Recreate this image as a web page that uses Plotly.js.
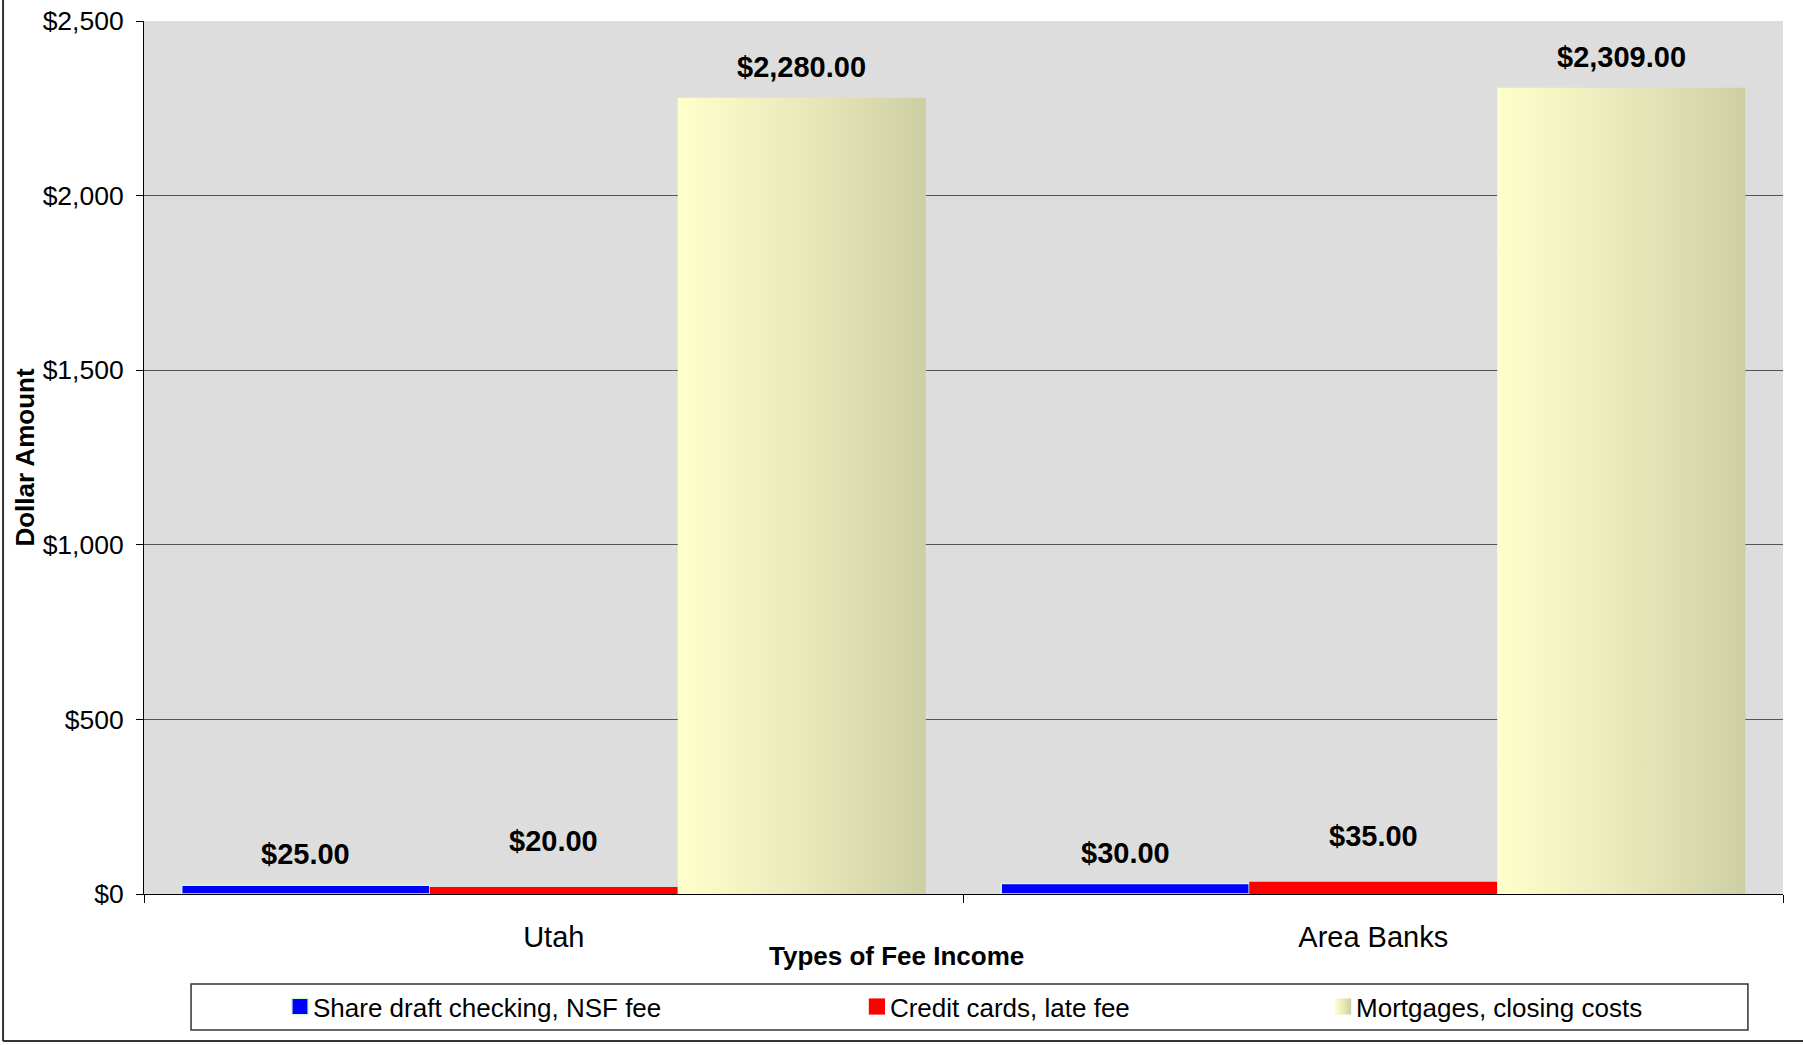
<!DOCTYPE html>
<html>
<head>
<meta charset="utf-8">
<script src="https://cdn.plot.ly/plotly-3.0.1.min.js"></script>
<style>
  html, body { margin: 0; padding: 0; background: #fff; }
  #chart { width: 1803px; height: 1045px; }
</style>
</head>
<body>
<div id="chart"></div>
<script>
// ---- data ----
const categories = ['Utah', 'Area Banks'];
const seriesNames = ['Share draft checking, NSF fee', 'Credit cards, late fee', 'Mortgages, closing costs'];
const shareDraftNSF = [25, 30];
const creditCardsLate = [20, 35];
const mortgagesClosing = [2280, 2309];
const xAxisTitle = 'Types of Fee Income';
const yAxisTitle = 'Dollar Amount';

// ---- style ----
const FONT = 'Liberation Sans, Arial, sans-serif';
const BARGAP = 0.092;
const seriesValues = [shareDraftNSF, creditCardsLate, mortgagesClosing];
const seriesColors = ['#0000FF', '#FF0000', '#F0F0C0'];
const seriesLines = [{color: '#CCFFCC', width: 1.5}, {color: '#FF0000', width: 0}, {color: '#DDDDB0', width: 0}];
const legendIds = ['legend', 'legend2', 'legend3'];
const labelShift = [31, 46, 31];

const traces = seriesValues.map((vals, s) => ({
  type: 'bar',
  name: seriesNames[s],
  x: categories,
  y: vals,
  marker: {color: seriesColors[s], line: seriesLines[s]},
  legend: legendIds[s],
  hoverinfo: 'skip'
}));

const barW = (1 - BARGAP) / seriesValues.length;
const annotations = [];
seriesValues.forEach((vals, s) => {
  vals.forEach((v, i) => {
    annotations.push({
      x: i + (s - (seriesValues.length - 1) / 2) * barW,
      y: v,
      xref: 'x', yref: 'y',
      text: '$' + v.toLocaleString('en-US', {minimumFractionDigits: 2, maximumFractionDigits: 2}),
      showarrow: false,
      xanchor: 'center', yanchor: 'middle',
      yshift: labelShift[s],
      font: {family: FONT, size: 29, color: '#000', weight: 'bold'}
    });
  });
});
annotations.push({
  text: xAxisTitle,
  xref: 'paper', yref: 'paper',
  x: 0.4594, y: -0.071,
  xanchor: 'center', yanchor: 'middle',
  showarrow: false,
  font: {family: FONT, size: 26, color: '#000', weight: 'bold'}
});

const legendBase = {
  orientation: 'h', xref: 'paper', yref: 'paper',
  xanchor: 'left', yanchor: 'middle', y: -0.129,
  bgcolor: 'rgba(0,0,0,0)', borderwidth: 0,
  font: {family: FONT, size: 26, color: '#000'}
};

const layout = {
  width: 1803, height: 1045,
  margin: {l: 144, r: 20, t: 21, b: 151, pad: 0},
  paper_bgcolor: '#FFFFFF',
  plot_bgcolor: '#DDDDDD',
  font: {family: FONT, color: '#000'},
  barmode: 'group',
  bargap: BARGAP,
  bargroupgap: 0,
  showlegend: true,
  legend: Object.assign({}, legendBase, {x: 0.0787}),
  legend2: Object.assign({}, legendBase, {x: 0.4307}),
  legend3: Object.assign({}, legendBase, {x: 0.7151}),
  xaxis: {
    type: 'category',
    automargin: false,
    showline: true, linecolor: '#000', linewidth: 1,
    ticks: 'outside', tickson: 'boundaries', ticklen: 8, tickcolor: '#000', tickwidth: 1,
    tickfont: {family: FONT, size: 29, color: '#000'},
    ticklabelstandoff: 17,
    showgrid: false, zeroline: false
  },
  yaxis: {
    range: [0, 2500], dtick: 500, tick0: 0,
    automargin: false,
    tickprefix: '$', tickformat: ',d',
    showline: true, linecolor: '#000', linewidth: 1,
    ticks: 'outside', ticklen: 7, tickcolor: '#000', tickwidth: 1,
    tickfont: {family: FONT, size: 26.5, color: '#000'},
    ticklabelstandoff: 7,
    showgrid: true, gridcolor: '#555555', gridwidth: 1,
    zeroline: false,
    title: {text: yAxisTitle, standoff: 0, font: {family: FONT, size: 26, color: '#000', weight: 'bold'}}
  },
  annotations: annotations,
  shapes: [
    {type: 'rect', xref: 'paper', yref: 'paper', x0: 0.0287, x1: 0.9786, y0: -0.1558, y1: -0.1031,
     line: {color: '#333333', width: 1.5}, fillcolor: 'rgba(0,0,0,0)', layer: 'below'},
    {type: 'line', xref: 'paper', yref: 'paper', x0: -0.086, x1: -0.086, y0: -0.1684, y1: 1.05,
     line: {color: '#333333', width: 2}},
    {type: 'line', xref: 'paper', yref: 'paper', x0: -0.086, x1: 1.05, y0: -0.1684, y1: -0.1684,
     line: {color: '#333333', width: 2}}
  ]
};

Plotly.newPlot('chart', traces, layout, {displayModeBar: false, staticPlot: true}).then(gd => {
  const svgNS = 'http://www.w3.org/2000/svg';
  const defs = gd.querySelector('.main-svg defs');
  const grad = document.createElementNS(svgNS, 'linearGradient');
  grad.setAttribute('id', 'mortGrad');
  grad.setAttribute('x1', '0'); grad.setAttribute('y1', '0');
  grad.setAttribute('x2', '1'); grad.setAttribute('y2', '0');
  [['0', '#FFFFCC'], ['0.5', '#EAE9BA'], ['1', '#CDCFA3']].forEach(([o, c]) => {
    const st = document.createElementNS(svgNS, 'stop');
    st.setAttribute('offset', o); st.setAttribute('stop-color', c);
    grad.appendChild(st);
  });
  defs.appendChild(grad);
  gd.querySelectorAll('.barlayer .trace').forEach(t => {
    const d = t.__data__;
    if (d && d[0] && d[0].trace && d[0].trace.index === 2) {
      t.querySelectorAll('path').forEach(p => { p.style.fill = 'url(#mortGrad)'; });
    }
  });
  gd.querySelectorAll('.legendpoints path').forEach(p => {
    const item = p.closest('.traces');
    const d = item ? item.__data__ : null;
    const idx = d && d[0] && d[0].trace ? d[0].trace.index : -1;
    const tr = p.getAttribute('transform') || '';
    p.setAttribute('transform', tr + ' translate(7,0) scale(1.35)');
    if (idx === 0) { p.style.stroke = '#CCFFCC'; p.style.strokeWidth = '1px'; }
    if (idx === 2) { p.style.fill = 'url(#mortGrad)'; }
  });
});
</script>
</body>
</html>
